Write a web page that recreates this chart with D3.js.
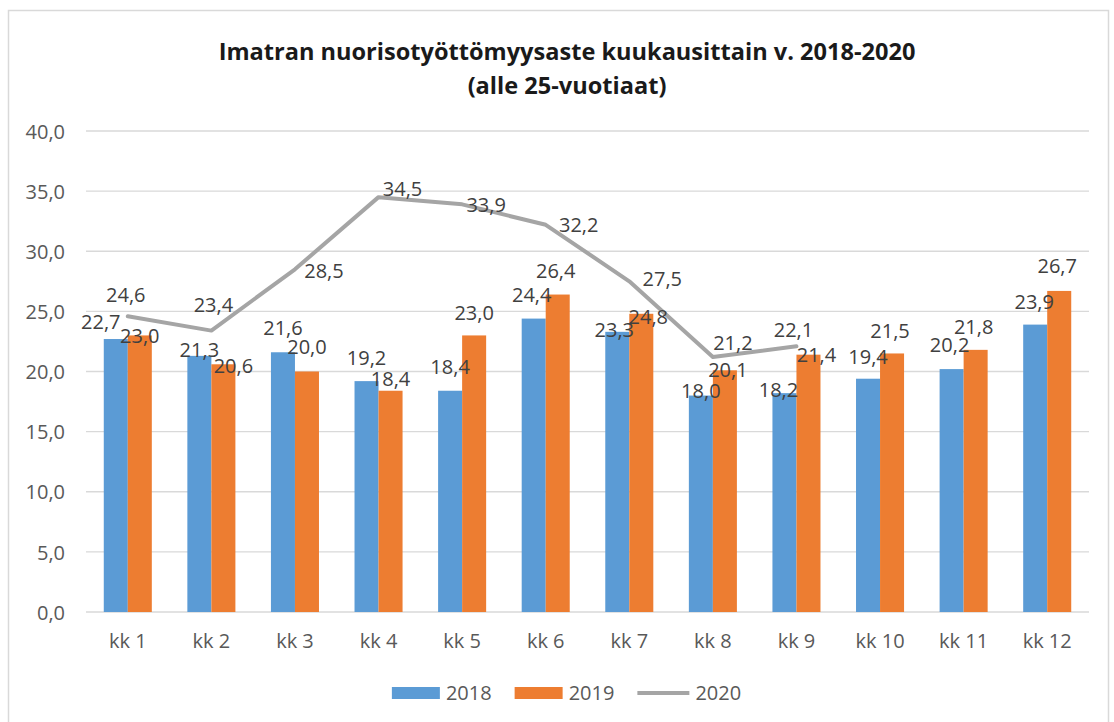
<!DOCTYPE html>
<html>
<head>
<meta charset="utf-8">
<script src="https://cdn.jsdelivr.net/npm/d3@7"></script>
<style>
  html, body { margin: 0; padding: 0; background: #ffffff; }
  svg { display: block; }
  text { font-family: "Open Sans", "Liberation Sans", sans-serif; }
</style>
</head>
<body>
<svg id="chart" width="1114" height="722"></svg>
<script>
// ---- data ----
const titleLines = ["Imatran nuorisotyöttömyysaste kuukausittain v. 2018-2020", "(alle 25-vuotiaat)"];
const categories = ["kk 1","kk 2","kk 3","kk 4","kk 5","kk 6","kk 7","kk 8","kk 9","kk 10","kk 11","kk 12"];
const seriesNames = ["2018", "2019", "2020"];
const values2018 = [22.7, 21.3, 21.6, 19.2, 18.4, 24.4, 23.3, 18.0, 18.2, 19.4, 20.2, 23.9];
const values2019 = [23.0, 20.6, 20.0, 18.4, 23.0, 26.4, 24.8, 20.1, 21.4, 21.5, 21.8, 26.7];
const values2020 = [24.6, 23.4, 28.5, 34.5, 33.9, 32.2, 27.5, 21.2, 22.1];
const yTicks = [0, 5, 10, 15, 20, 25, 30, 35, 40];

// ---- layout (label nudges relative to each mark, in px) ----
const nudge2018 = [[-15,-17],[0,-6],[0,-24],[0,-23],[0,-24],[-2,-24],[-3,-2],[0,-5],[-6,-3],[0,-22],[-2,-24],[-1,-23]];
const nudge2019 = [[0,0],[10,2],[0,-25],[0,-12],[0,-23],[-2,-24],[7,3],[3,0],[8,0],[-2,-23],[-2,-23],[-2,-25]];
const nudge2020 = [[-2,-21],[2,-26],[29,2],[24,-8],[24,0],[33,0],[33,-3],[20,-14],[-3,-16]];

const colors = {"2018": "#5b9bd5", "2019": "#ed7d31", "2020": "#a5a5a5"};
const fmt = v => d3.format(".1f")(v).replace(".", ",");
const FS = 20;

const svg = d3.select("#chart");

// outer border
svg.append("rect").attr("x", 8.5).attr("y", 10.5).attr("width", 1100).attr("height", 716)
  .attr("fill", "#ffffff").attr("stroke", "#d9d9d9").attr("stroke-width", 1.5);

const plot = {left: 86, right: 1089, top: 131, bottom: 612};

const x0 = d3.scaleBand().domain(categories).range([plot.left, plot.right]).padding(0);
const x1 = d3.scaleBand().domain(["2018", "2019"]).range([0, x0.bandwidth()]).paddingInner(0).paddingOuter(0.74);
const y = d3.scaleLinear().domain([0, 40]).range([plot.bottom, plot.top]);

// gridlines
svg.append("g").selectAll("line").data(yTicks).join("line")
  .attr("x1", plot.left).attr("x2", plot.right)
  .attr("y1", d => y(d)).attr("y2", d => y(d))
  .attr("stroke", "#d9d9d9").attr("stroke-width", 1.3);

// y axis labels
const yAxis = d3.axisLeft(y).tickValues(yTicks).tickFormat(fmt).tickSize(0).tickPadding(0);
const gy = svg.append("g").attr("transform", `translate(${65},0)`).call(yAxis);
gy.select(".domain").remove();
gy.selectAll("text").attr("font-size", FS).attr("fill", "#595959")
  .attr("font-family", "'Open Sans', sans-serif").attr("dy", "0.36em");

// x axis labels
const xAxis = d3.axisBottom(x0).tickSize(0).tickPadding(0);
const gx = svg.append("g").attr("transform", `translate(0,${plot.bottom})`).call(xAxis);
gx.select(".domain").remove();
gx.selectAll("text").attr("font-size", FS).attr("fill", "#595959")
  .attr("font-family", "'Open Sans', sans-serif").attr("y", 36).attr("dy", 0);

// bars
const barSeries = [["2018", values2018, nudge2018], ["2019", values2019, nudge2019]];
barSeries.forEach(([name, vals]) => {
  svg.append("g").selectAll("rect").data(vals).join("rect")
    .attr("x", (d, i) => x0(categories[i]) + x1(name))
    .attr("width", x1.bandwidth())
    .attr("y", d => y(d))
    .attr("height", d => y(0) - y(d))
    .attr("fill", colors[name]);
});

// line 2020
const line = d3.line()
  .x((d, i) => x0(categories[i]) + x0.bandwidth() / 2)
  .y(d => y(d));
svg.append("path").datum(values2020)
  .attr("d", line).attr("fill", "none")
  .attr("stroke", colors["2020"]).attr("stroke-width", 4)
  .attr("stroke-linejoin", "round").attr("stroke-linecap", "round");

// data labels
const labelColor = "#404040";
barSeries.forEach(([name, vals, nd]) => {
  svg.append("g").selectAll("text").data(vals).join("text")
    .attr("x", (d, i) => x0(categories[i]) + x1(name) + x1.bandwidth() / 2 + nd[i][0])
    .attr("y", (d, i) => y(d) + nd[i][1] + FS * 0.36)
    .attr("text-anchor", "middle").attr("font-size", FS).attr("fill", labelColor)
    .text(d => fmt(d));
});
svg.append("g").selectAll("text").data(values2020).join("text")
  .attr("x", (d, i) => x0(categories[i]) + x0.bandwidth() / 2 + nudge2020[i][0])
  .attr("y", (d, i) => y(d) + nudge2020[i][1] + FS * 0.36)
  .attr("text-anchor", "middle").attr("font-size", FS).attr("fill", labelColor)
  .text(d => fmt(d));

// title
const titleCx = 567;
const t1 = svg.append("text").attr("x", titleCx).attr("y", 60).attr("text-anchor", "middle")
  .attr("font-weight", "bold").attr("font-size", 24).attr("fill", "#1a1a1a").text(titleLines[0]);
const w1 = t1.node().getComputedTextLength();
const tfs = 24 * 697 / w1;
t1.attr("font-size", tfs);
svg.append("text").attr("x", titleCx).attr("y", 94).attr("text-anchor", "middle")
  .attr("font-weight", "bold").attr("font-size", tfs).attr("fill", "#1a1a1a").text(titleLines[1]);

// legend
const legendY = 693;
const lg = svg.append("g");
const items = seriesNames.map(n => {
  const g = lg.append("g");
  if (n === "2020") {
    g.append("line").attr("x1", 0).attr("x2", 52).attr("y1", 0).attr("y2", 0)
      .attr("stroke", colors[n]).attr("stroke-width", 4);
  } else {
    g.append("rect").attr("x", 0).attr("y", -6).attr("width", 48).attr("height", 12).attr("fill", colors[n]);
  }
  const symW = n === "2020" ? 52 : 48;
  const t = g.append("text").attr("x", symW + 6).attr("y", FS * 0.36).attr("font-size", FS)
    .attr("fill", "#595959").text(n);
  const w = symW + 6 + t.node().getComputedTextLength();
  return {g, w};
});
const gap = 23;
const total = d3.sum(items, d => d.w) + gap * (items.length - 1);
let cx = 566.5 - total / 2;
items.forEach(it => { it.g.attr("transform", `translate(${cx},${legendY})`); cx += it.w + gap; });
</script>
</body>
</html>
